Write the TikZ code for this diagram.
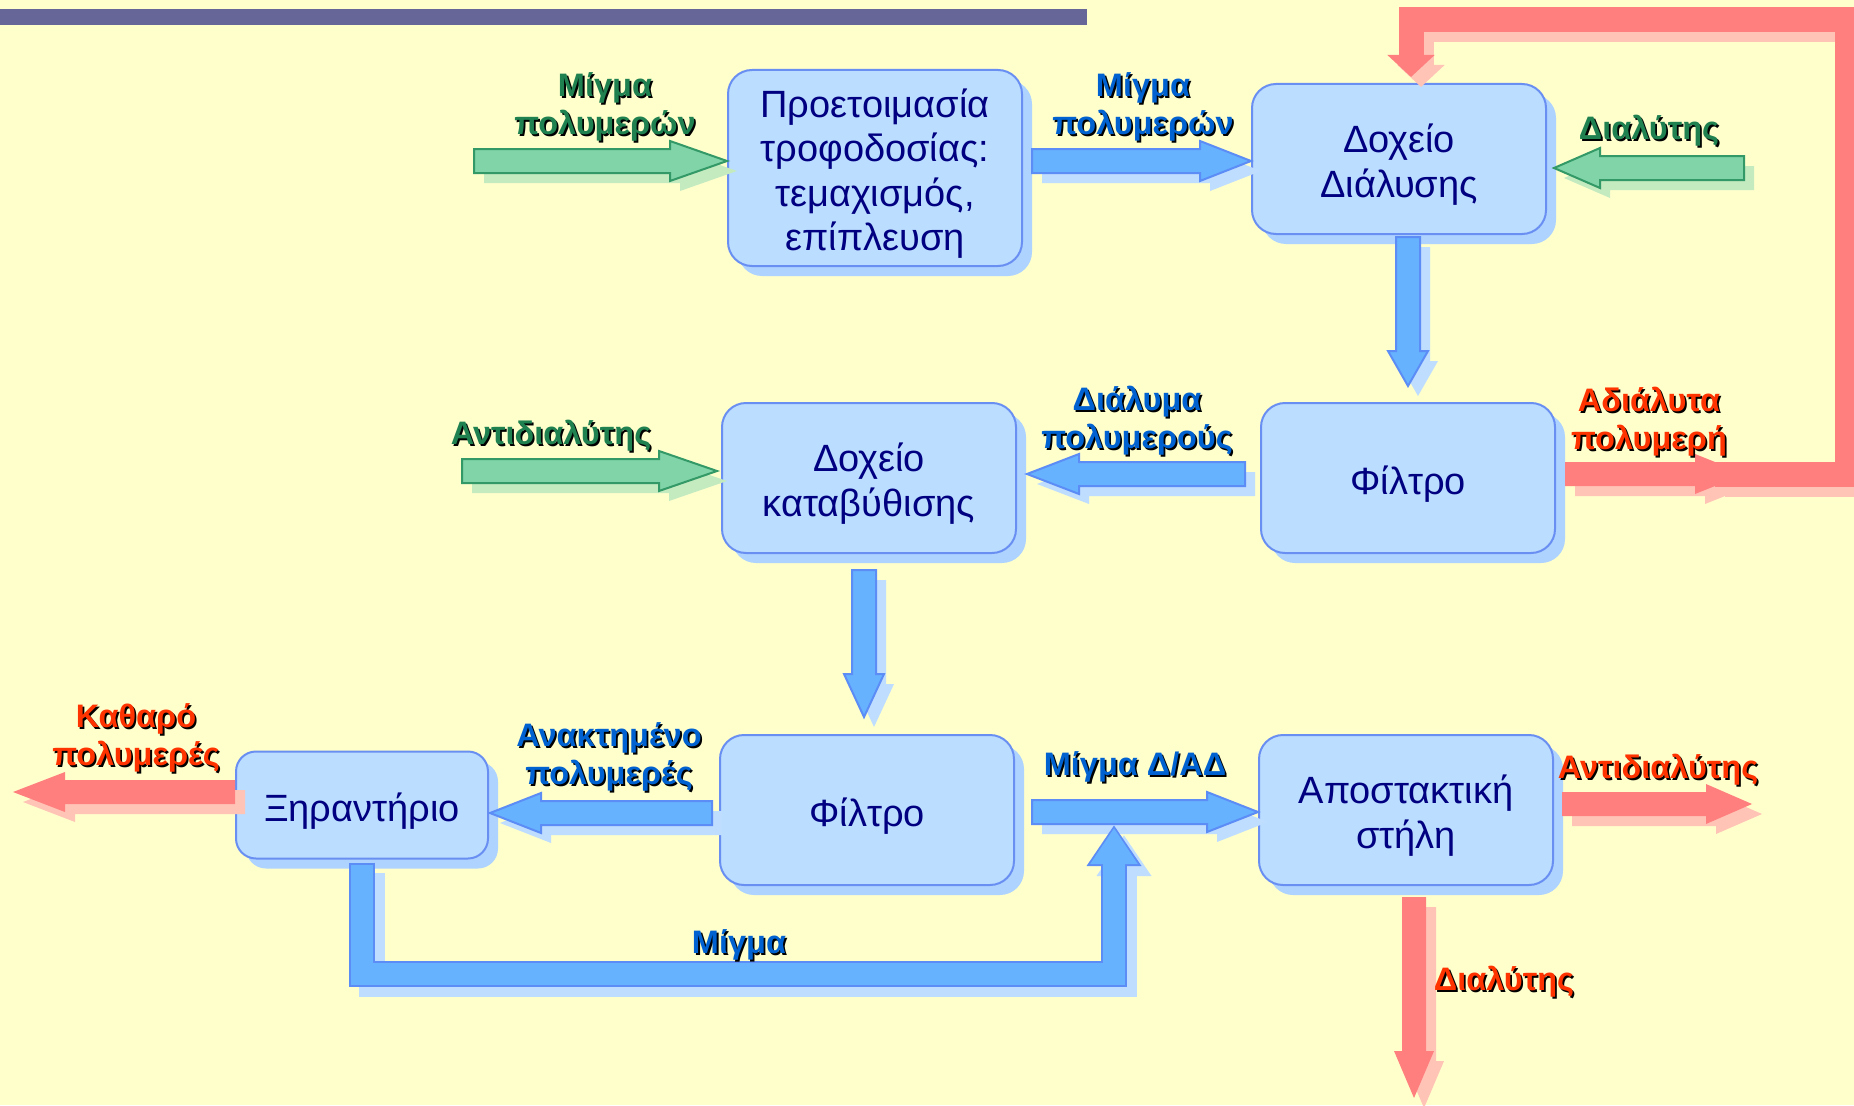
\documentclass[tikz,border=0pt]{standalone}
\usepackage{fontspec}
\setmainfont{Liberation Sans}
\usepackage{xcolor}
\usepackage{tikz}
\usetikzlibrary{calc, shadows, arrows.meta}

\definecolor{bgyellow}{HTML}{FFFFCC}
\definecolor{barpurple}{HTML}{666699}
\definecolor{boxfill}{HTML}{BBDDFF}
\definecolor{boxline}{HTML}{6A8FF2}
\definecolor{boxshadow}{HTML}{AED3FF}
\definecolor{boxtext}{HTML}{000080}
\definecolor{arrowblue}{HTML}{66B2FF}
\definecolor{arrowblueline}{HTML}{5C8CF5}
\definecolor{shadowblue}{HTML}{BFDDFF}
\definecolor{arrowgreen}{HTML}{80D4A8}
\definecolor{arrowgreenline}{HTML}{339966}
\definecolor{shadowgreen}{HTML}{C4EAC0}
\definecolor{arrowred}{HTML}{FF7F7F}
\definecolor{shadowred}{HTML}{FFC4B6}
\definecolor{lblgreen}{HTML}{1F8050}
\definecolor{lblblue}{HTML}{0062D0}
\definecolor{lblred}{HTML}{FF3300}

% text with a dark drop shadow
\newcommand{\shtext}[1]{\rlap{\kern1.8pt\raisebox{-1.8pt}{\textcolor{black}{#1}}}#1}
% taller first line, so the box text sits a little lower
\newcommand{\boxstrut}{\rule{0pt}{40pt}}

% block arrow: [head length]{colour}{from}{to}
\newcommand{\flowarrow}[4][50]{%
  \coordinate (fa-s) at #3;
  \coordinate (fa-e) at #4;
  \coordinate (fa-h) at ($(fa-e)!#1pt!(fa-s)$);
  \path[#2 shadow] ($(fa-s)!12pt!90:(fa-e)$) -- ($(fa-h)!12pt!90:(fa-e)$)
    -- ($(fa-h)!20pt!90:(fa-e)$) -- (fa-e) -- ($(fa-h)!20pt!-90:(fa-e)$)
    -- ($(fa-h)!12pt!-90:(fa-e)$) -- ($(fa-s)!12pt!-90:(fa-e)$) -- cycle;
  \path[#2 arrow] ($(fa-s)!12pt!90:(fa-e)$) -- ($(fa-h)!12pt!90:(fa-e)$)
    -- ($(fa-h)!20pt!90:(fa-e)$) -- (fa-e) -- ($(fa-h)!20pt!-90:(fa-e)$)
    -- ($(fa-h)!12pt!-90:(fa-e)$) -- ($(fa-s)!12pt!-90:(fa-e)$) -- cycle;
}

\begin{document}
\begin{tikzpicture}[x=1pt, y=-1pt,
    stage/.style={draw=boxline, fill=boxfill, line width=2pt, rounded corners=24pt,
      minimum width=294pt, minimum height=150pt, inner sep=0pt, align=center,
      text=boxtext, font={\fontsize{38}{44.5}\selectfont},
      drop shadow={shadow xshift=10pt, shadow yshift=-10pt, fill=boxshadow, opacity=1}},
    flowlabel/.style={align=center, inner sep=0pt, font={\fontsize{32.5}{38}\selectfont\bfseries}},
    blue arrow/.style={fill=arrowblue, draw=arrowblueline, line width=2pt, line join=miter},
    blue shadow/.style={fill=shadowblue, transform canvas={shift={(10pt,-10pt)}}},
    green arrow/.style={fill=arrowgreen, draw=arrowgreenline, line width=2pt, line join=miter},
    green shadow/.style={fill=shadowgreen, transform canvas={shift={(10pt,-10pt)}}},
    red arrow/.style={fill=arrowred},
    red shadow/.style={fill=shadowred, transform canvas={shift={(10pt,-10pt)}}},
    red pipe/.style={draw=arrowred, line width=25pt, line join=miter,
      -{Triangle[length=22pt, width=46pt]}},
    red pipe shadow/.style={red pipe, draw=shadowred, transform canvas={shift={(10pt,-10pt)}}},
    blue pipe edge/.style={draw=arrowblueline, line width=26pt, line join=miter,
      -{Triangle[length=41pt, width=52pt]}},
    blue pipe shadow/.style={blue pipe edge, draw=shadowblue, transform canvas={shift={(10pt,-10pt)}}},
    blue pipe/.style={draw=arrowblue, line width=22pt, line join=miter, shorten >=3pt,
      -{Triangle[length=36pt, width=45pt]}}]

    % φόντο και μπάρα
    \fill[bgyellow] (0,0) rectangle (1854,1105);
    \useasboundingbox (0,0) rectangle (1854,1105);
    \fill[barpurple] (0,9) rectangle (1087,25);

    % μονάδες
    \node[stage, minimum height=196pt] (prep) at (875,168) {\boxstrut Προετοιμασία\\τροφοδοσίας:\\τεμαχισμός,\\επίπλευση};
    \node[stage] (dial) at (1399,159) {\boxstrut Δοχείο\\Διάλυσης};
    \node[stage] (prec) at (869,478) {\boxstrut Δοχείο\\καταβύθισης};
    \node[stage] (filt1) at (1408,478) {\boxstrut Φίλτρο};
    \node[stage, minimum width=252pt, minimum height=107pt, rounded corners=20pt] (dryer) at (362,805) {\boxstrut Ξηραντήριο};
    \node[stage] (filt2) at (867,810) {\boxstrut Φίλτρο};
    \node[stage] (dist) at (1406,810) {\boxstrut Αποστακτική\\στήλη};

    % ελεύθερα άκρα
    \coordinate (feedin) at (474,161);
    \coordinate (solvin) at (1744,168);
    \coordinate (undisout) at (1745,474);
    \coordinate (antiin) at (462,471);
    \coordinate (pureout) at (13,792);
    \coordinate (antiout) at (1752,804);
    \coordinate (solvout) at (1414,1098);
    \coordinate (mixjoin) at (1114,825);

    % ροές
    \flowarrow[57]{green}{(feedin)}{([yshift=7pt]prep.west)}
    \flowarrow[51]{blue}{([xshift=9pt,yshift=7pt]prep.east)}{([yshift=-2pt]dial.west)}
    \flowarrow[46]{green}{(solvin)}{([xshift=7pt,yshift=-9pt]dial.east)}
    \flowarrow[35]{blue}{([xshift=9pt,yshift=-2pt]dial.south)}{([yshift=16pt]filt1.north)}
    \flowarrow[52]{blue}{([xshift=-15pt,yshift=4pt]filt1.west)}{([xshift=10pt,yshift=4pt]prec.east)}

    % ανακύκλωση αδιάλυτων
    \draw[red pipe shadow] ([xshift=-30pt]undisout) -| (1847,20) -| ([xshift=12pt,yshift=6pt]dial.north);
    \flowarrow[50]{red}{([xshift=9pt,yshift=4pt]filt1.east)}{(undisout)}
    \draw[red pipe] ([xshift=-30pt]undisout) -| (1847,20) -| ([xshift=12pt,yshift=6pt]dial.north);

    \flowarrow[58]{green}{(antiin)}{([xshift=-4pt,yshift=7pt]prec.west)}
    \flowarrow[43]{blue}{([xshift=-5pt,yshift=-16pt]prec.south)}{([xshift=-3pt,yshift=17pt]filt2.north)}
    \flowarrow[51]{blue}{([xshift=-7pt,yshift=-3pt]filt2.west)}{([xshift=1pt,yshift=-8pt]dryer.east)}
    \flowarrow[52]{red}{([yshift=13pt]dryer.west)}{(pureout)}
    \flowarrow[51]{blue}{([xshift=17pt,yshift=-2pt]filt2.east)}{([yshift=-2pt]dist.west)}

    % επιστροφή μίγματος
    \draw[blue pipe shadow] ([yshift=-3pt]dryer.south) |- (mixjoin |- 0,974) -- (mixjoin);
    \draw[blue pipe edge] ([yshift=-3pt]dryer.south) |- (mixjoin |- 0,974) -- (mixjoin);
    \draw[blue pipe] ([yshift=-5pt]dryer.south) |- (mixjoin |- 0,974) -- (mixjoin);

    \flowarrow[46]{red}{([xshift=8pt,yshift=6pt]dist.east)}{(antiout)}
    \flowarrow[47]{red}{([xshift=8pt,yshift=-11pt]dist.south)}{(solvout)}

    % ετικέτες
    \node[flowlabel, text=lblgreen] (tfeed) at (605,108) {\shtext{Μίγμα}\\\shtext{πολυμερών}};
    \node[flowlabel, text=lblblue] (tmix) at (1143,108) {\shtext{Μίγμα}\\\shtext{πολυμερών}};
    \node[flowlabel, text=lblgreen] (tsolv) at (1649,132) {\shtext{Διαλύτης}};
    \node[flowlabel, text=lblblue] (tsoln) at (1137,422) {\shtext{Διάλυμα}\\\shtext{πολυμερούς}};
    \node[flowlabel, text=lblred] (tundis) at (1649,423) {\shtext{Αδιάλυτα}\\\shtext{πολυμερή}};
    \node[flowlabel, text=lblgreen] (tanti) at (551,437) {\shtext{Αντιδιαλύτης}};
    \node[flowlabel, text=lblred] (tpure) at (136,739) {\shtext{Καθαρό}\\\shtext{πολυμερές}};
    \node[flowlabel, text=lblblue] (trec) at (609,758) {\shtext{Ανακτημένο}\\\shtext{πολυμερές}};
    \node[flowlabel, text=lblblue] (tmixda) at (1135,768) {\shtext{Μίγμα Δ/ΑΔ}};
    \node[flowlabel, text=lblred] (tantiout) at (1658,771) {\shtext{Αντιδιαλύτης}};
    \node[flowlabel, text=lblred] (tsolvout) at (1504,983) {\shtext{Διαλύτης}};
    \node[flowlabel, text=lblblue] (tback) at (739,946) {\shtext{Μίγμα}};
\end{tikzpicture}
\end{document}
